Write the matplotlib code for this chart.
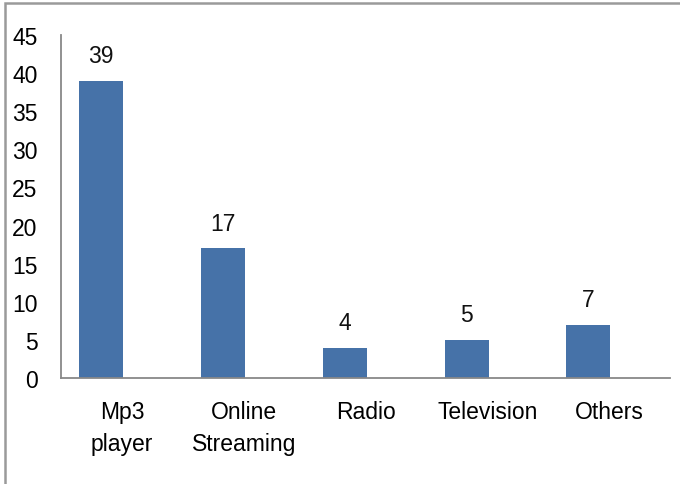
import matplotlib
matplotlib.use("Agg")
import matplotlib.pyplot as plt
from matplotlib.patches import Rectangle
import numpy as np

# data
categories = ["Mp3\nplayer", "Online\nStreaming", "Radio", "Television", "Others"]
values = [39, 17, 4, 5, 7]
y_ticks = [0, 5, 10, 15, 20, 25, 30, 35, 40, 45]

plt.rcParams['font.family'] = ['Liberation Sans', 'DejaVu Sans']
FS = 16.5

fig = plt.figure(figsize=(6.8, 4.85), dpi=100)
ax = fig.add_axes([61 / 680, 1 - 379 / 485, (670 - 61) / 680, (379 - 36) / 485])

x = np.arange(len(categories))
bar_x = x - 0.17  # bars sit left of category centre, like the original
bars = ax.bar(bar_x, values, width=0.36, color='#4672A8', zorder=2)

for bx, v in zip(bar_x, values):
    ax.annotate(str(v), (bx, v), xytext=(0, 18), textcoords='offset points',
                ha='center', va='center', fontsize=FS, color='#111111')

ax.set_xlim(-0.5, 4.5)
ax.set_ylim(0, 45)
ax.set_yticks(y_ticks)
ax.set_xticks(x)
ax.set_xticklabels(categories, fontsize=FS, linespacing=1.5)
ax.tick_params(axis='y', length=0, pad=17, labelsize=FS)
ax.tick_params(axis='x', length=0, pad=16)

for s in ['top', 'right']:
    ax.spines[s].set_visible(False)
for s in ['left', 'bottom']:
    ax.spines[s].set_color('#888888')
    ax.spines[s].set_linewidth(1.3)

# outer frame of the original screenshot (top and left edges)
fig.patches.append(Rectangle((5 / 680, -0.1), 1.2, 1.1 - 4 / 485,
                             transform=fig.transFigure, fill=False,
                             edgecolor='#9a9a9a', linewidth=1.8))

fig.savefig("out.png", dpi=100)
